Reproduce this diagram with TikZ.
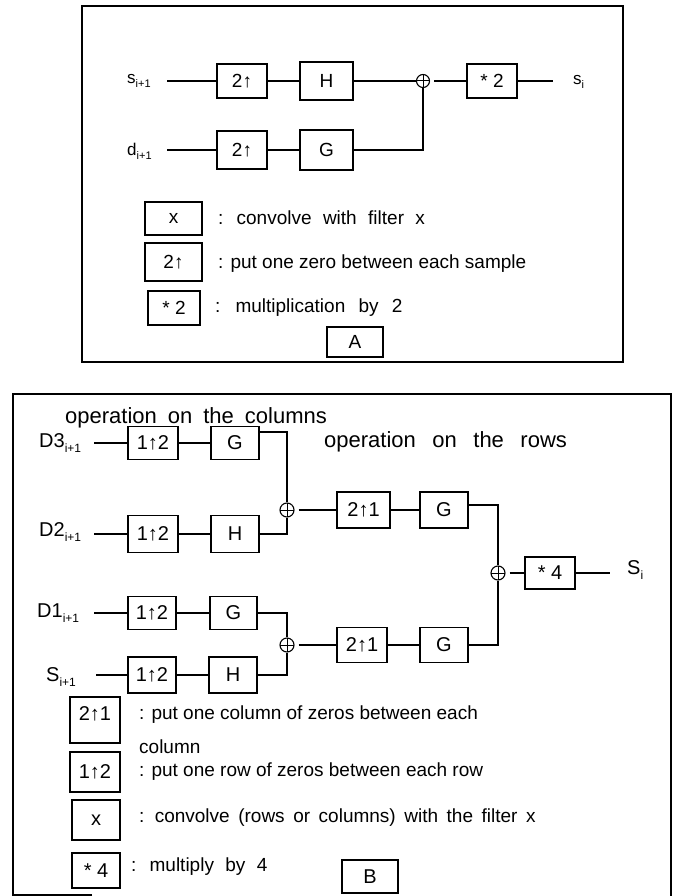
\documentclass[tikz,border=0pt]{standalone}
\usepackage{fontspec}
\setmainfont{Liberation Sans}
\newcommand\fs[1]{\fontsize{#1}{#1}\selectfont}
\newcommand\sbs[1]{\raisebox{-0.22em}{\fontsize{11}{11}\selectfont #1}}
\newcommand\sbB[1]{\raisebox{-0.22em}{\fontsize{12}{12}\selectfont #1}}
\begin{document}
\begin{tikzpicture}[x=1pt,y=-1pt,
  blk/.style={draw, line width=1.4pt, inner sep=0pt, font=\fs{19}},
  blkB/.style={draw, line width=1.4pt, inner sep=0pt, font=\fs{20}},
  wire/.style={line width=1.4pt},
  oplus/.style={draw, circle, line width=1.1pt, inner sep=0pt, minimum size=#1,
    path picture={\draw[line width=1pt] (path picture bounding box.north) -- (path picture bounding box.south)
      (path picture bounding box.west) -- (path picture bounding box.east);}},
  oplus/.default=13pt,
  lbl/.style={anchor=west, inner sep=0pt, font=\fs{17}},
  lblB/.style={anchor=west, inner sep=0pt, font=\fs{20}},
  txt/.style={anchor=west, inner sep=0pt, font=\fs{19}},
  panelframe/.style={line width=1.4pt}
]
\fill[white] (0,0) rectangle (679,896);
\useasboundingbox (0,0) rectangle (679,896);

% ---------------- Panel A ----------------
\draw[panelframe] (82,6) rectangle (623,362);
\node[lbl] (sA) at (127,81) {s\sbs{i+1}};
\coordinate (sAin) at (167,81);
\node[blk, minimum width=50pt, minimum height=34pt] (a1) at (242,81) {2↑};
\node[blk, minimum width=53pt, minimum height=38pt] (hA) at (326.5,81) {H};
\node[oplus] (pA) at (423,81) {};
\node[blk, minimum width=50pt, minimum height=34pt] (mA) at (492,81) {* 2};
\coordinate (sAout) at (553,81);
\node[lbl] (siA) at (573,82) {s\sbs{i}};
\draw[wire] (sAin) -- (a1);
\draw[wire] (a1) -- (hA);
\draw[wire] (hA) -- (pA);
\draw[wire, shorten <=4pt] (pA) -- (mA);
\draw[wire] (mA) -- (sAout);

\node[lbl] (dA) at (127,151) {d\sbs{i+1}};
\coordinate (dAin) at (167,150);
\node[blk, minimum width=50pt, minimum height=38pt] (b1) at (242,150) {2↑};
\node[blk, minimum width=53pt, minimum height=40pt] (gA) at (326.5,150) {G};
\draw[wire] (dAin) -- (b1);
\draw[wire] (b1) -- (gA);
\draw[wire] (gA.east) -| (pA.south);

\node[blk, minimum width=57pt, minimum height=33pt] (lx) at (173.5,218.5) {x};
\node[txt] (tx) at (218,218) {\spaceskip=0.6em : convolve with filter x};
\node[blk, minimum width=57pt, minimum height=38pt] (l2) at (173.5,262) {2↑};
\node[txt] (t2) at (218,264) {: put one zero between each sample};
\node[blk, minimum width=52pt, minimum height=34pt] (l3) at (174,308) {* 2};
\node[txt] (t3) at (215,308) {\spaceskip=0.7em : multiplication by 2};
\node[blk, minimum width=56pt, minimum height=30pt] (bA) at (355,342) {A};

% ---------------- Panel B ----------------
\draw[panelframe] (92,895) -- (13,895) -- (13,394) -- (671,394) -- (671,896);
\node[txt, font=\fs{22}] (hc) at (65,418) {\spaceskip=0.5em operation on the columns};
\node[txt, font=\fs{22}] (hr) at (324,442) {\spaceskip=0.75em operation on the rows};

% D3 row
\node[lblB] (d3) at (39,443) {D3\sbB{i+1}};
\coordinate (d3in) at (94,443);
\node[blkB, minimum width=50pt, minimum height=33pt] (u3) at (153,443) {1↑2};
\node[blkB, minimum width=48pt, minimum height=33pt] (g3) at (235,443) {G};
% D2 row
\node[lblB] (d2) at (39,532) {D2\sbB{i+1}};
\coordinate (d2in) at (94,534);
\node[blkB, minimum width=50pt, minimum height=37pt] (u2) at (153,534) {1↑2};
\node[blkB, minimum width=48pt, minimum height=37pt] (h2) at (235,534) {H};
% first sum and rows
\node[oplus=14pt] (p1) at (287,510) {};
\node[blkB, minimum width=53pt, minimum height=36pt] (r1) at (363.5,510) {2↑1};
\node[blkB, minimum width=48pt, minimum height=36pt] (rg1) at (444,510) {G};
% final sum
\node[oplus=14pt] (p2) at (498,573) {};
\node[blkB, minimum width=50pt, minimum height=32pt] (m4) at (550,573) {* 4};
\coordinate (sBout) at (610,573);
\node[lblB] (sB) at (627,570) {S\sbB{i}};
% D1 row
\node[lblB] (d1) at (37,613) {D1\sbB{i+1}};
\coordinate (d1in) at (94,613);
\node[blkB, minimum width=48pt, minimum height=33pt] (u1) at (152,613) {1↑2};
\node[blkB, minimum width=47pt, minimum height=33pt] (g1) at (233.5,613) {G};
% second sum and rows
\node[oplus=14pt] (p3) at (287,645) {};
\node[blkB, minimum width=50pt, minimum height=35pt] (r2) at (362,645) {2↑1};
\node[blkB, minimum width=48pt, minimum height=35pt] (rg2) at (444,645) {G};
% S row
\node[lblB] (s0) at (46,677) {S\sbB{i+1}};
\coordinate (s0in) at (96,675);
\node[blkB, minimum width=48pt, minimum height=36pt] (u0) at (152,675) {1↑2};
\node[blkB, minimum width=48pt, minimum height=36pt] (h0) at (233,675) {H};

\draw[wire] (d3in) -- (u3);
\draw[wire] (u3) -- (g3);
\draw[wire] ([yshift=11pt]g3.east) -| (p1.north);
\draw[wire] (d2in) -- (u2);
\draw[wire] (u2) -- (h2);
\draw[wire] (h2.east) -| (p1.south);
\draw[wire, shorten <=4pt] (p1) -- (r1);
\draw[wire] (r1) -- (rg1);
\draw[wire] ([yshift=5pt]rg1.east) -| (p2.north);
\draw[wire, shorten <=4pt] (p2) -- (m4);
\draw[wire] (m4) -- (sBout);
\draw[wire] (d1in) -- (u1);
\draw[wire] (u1) -- (g1);
\draw[wire] (g1.east) -| (p3.north);
\draw[wire, shorten <=4pt] (p3) -- (r2);
\draw[wire] (r2) -- (rg2);
\draw[wire] (rg2.east) -| (p2.south);
\draw[wire] (s0in) -- (u0);
\draw[wire] (u0) -- (h0);
\draw[wire] (h0.east) -| (p3.south);

% legend B
\node[blkB, minimum width=50pt, minimum height=46pt,
  label={[font=\fs{20}, yshift=6pt]center:2↑1}] (lb1) at (95,720) {};
\node[txt, align=left, font=\fontsize{19}{34}\selectfont] (tb1) at (139,730)
  {: put one column of zeros between each\\column};
\node[blkB, minimum width=50pt, minimum height=40pt] (lb2) at (95,772) {1↑2};
\node[txt] (tb2) at (139,772) {: put one row of zeros between each row};
\node[blkB, minimum width=48pt, minimum height=40pt] (lb3) at (96,820) {x};
\node[txt] (tb3) at (139,818) {\spaceskip=0.45em : convolve (rows or columns) with the filter x};
\node[blkB, minimum width=48pt, minimum height=35pt] (lb4) at (96,870.5) {* 4};
\node[txt] (tb4) at (131,867) {\spaceskip=0.6em : multiply by 4};
\node[blkB, minimum width=56pt, minimum height=33pt] (bB) at (370,876.5) {B};
\end{tikzpicture}
\end{document}
